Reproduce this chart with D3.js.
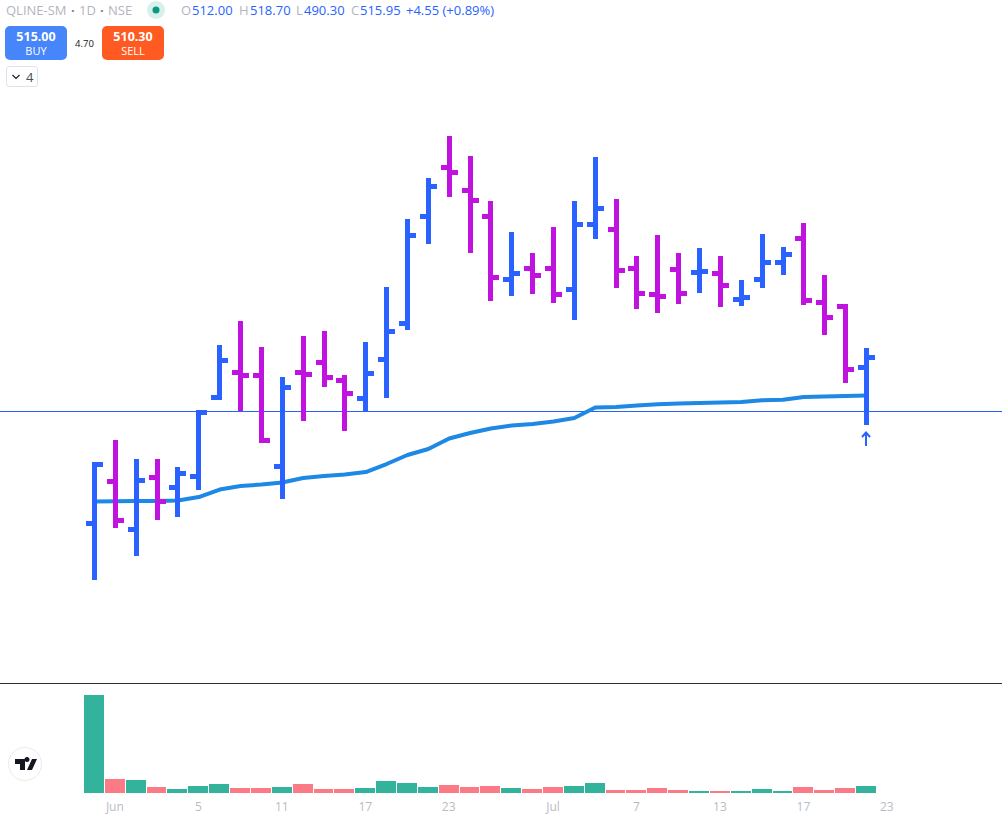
<!DOCTYPE html>
<html>
<head>
<meta charset="utf-8">
<style>
html,body{margin:0;padding:0;background:#fff;overflow:hidden}
svg{display:block}
text{font-family:"Open Sans","Noto Sans",sans-serif}
</style>
<script src="https://cdn.jsdelivr.net/npm/d3@7"></script>
</head>
<body>
<svg id="chart" width="1002" height="816"></svg>
<script>
// Daily OHLC for QLINE-SM, session by session
const opens = [450.45,467.02,448.08,468.60,464.65,468.99,500.15,510.02,508.83,472.94,510.02,513.96,506.86,499.76,515.14,529.35,571.56,590.88,581.81,571.56,546.70,551.04,551.04,542.76,568.40,566.43,551.04,540.79,550.65,549.46,549.07,538.81,546.70,553.41,562.88,537.63,536.05,512.00];
const highs = [473.72,482.40,474.91,474.91,471.75,494.24,519.88,529.35,519.09,507.26,523.43,525.40,508.04,521.06,542.76,569.58,585.76,602.32,594.43,576.68,564.45,556.17,566.43,576.68,594.04,577.47,554.99,563.27,556.17,558.14,554.99,545.52,563.67,558.54,568.01,547.49,536.05,518.70];
const lows = [429.15,449.66,438.62,452.82,454.00,464.65,500.15,495.82,483.19,461.10,491.87,505.28,487.93,495.82,500.94,527.77,561.69,580.23,558.14,539.21,541.18,541.97,538.42,531.71,563.67,544.34,536.05,534.47,538.02,542.36,536.84,537.24,544.34,549.46,537.63,525.80,506.86,490.30];
const closes = [473.72,451.63,467.41,459.13,470.17,494.24,514.75,508.83,483.19,504.10,509.23,508.04,501.73,509.62,526.19,564.06,583.39,588.91,577.87,547.49,549.07,548.28,540.79,568.40,574.71,550.25,541.18,540.00,541.18,549.86,544.34,539.60,553.41,556.57,538.42,531.71,511.20,515.95];
// Moving average overlay
const maValues = [459.13,459.21,459.33,459.33,459.52,460.90,463.86,465.24,465.83,466.62,468.40,469.19,469.78,470.77,473.92,477.47,479.84,483.98,486.15,487.93,489.11,489.70,490.69,492.07,496.21,496.41,497.00,497.47,497.79,497.98,498.18,498.38,499.05,499.29,500.35,500.55,500.74,500.94];
// Volume per session, thousands of shares
const volumes = [98,14,13,6,4,7,9,5,5,6,9,4,4,5,12,10,6,8,6,7,5,4,6,7,10,3,3,5,3,2,2,2,4,2,6,3,5,7];
const volumeUp = [1,0,1,0,1,1,1,0,0,1,0,0,0,1,1,1,1,0,0,0,1,0,0,1,1,0,0,0,0,1,0,1,1,1,0,0,0,1];
// Time axis labels and the session slot each one sits on
const tickSlots = [1,5,9,13,17,22,26,30,34,38];
const tickLabels = ["Jun","5","11","17","23","Jul","7","13","17","23"];
const referencePrice = 494.8;

const svg = d3.select("#chart");
const x = d3.scaleLinear().domain([0, 37]).range([94.5, 866.5]);
const y = d3.scaleLinear().domain([518.70, 490.30]).range([350.5, 422.5]);
const yVol = d3.scaleLinear().domain([0, 98]).range([793, 695]);

const UP = "#2962ff", DOWN = "#c013e0";
const stemW = 5, tickH = 5, tickLen = 6;
const centre = v => Math.floor(y(v));

// price reference line
svg.append("rect").attr("x", 0).attr("width", 1002).attr("y", Math.floor(y(referencePrice))).attr("height", 1).attr("fill", UP);
// pane separator
svg.append("rect").attr("x", 0).attr("width", 1002).attr("y", 683).attr("height", 1).attr("fill", "#2a2e39");

// moving average sits beneath the bars
const maLine = d3.line().x((d, i) => x(i)).y(d => y(d));
svg.append("path").datum(maValues)
  .attr("d", maLine).attr("fill", "none")
  .attr("stroke", "#1e88e5").attr("stroke-width", 4).attr("stroke-linejoin", "round");

// OHLC bars
const bars = svg.append("g").selectAll("g").data(opens).join("g")
  .attr("fill", (d, i) => closes[i] >= opens[i] ? UP : DOWN);
bars.append("rect")
  .attr("x", (d, i) => Math.round(x(i) - stemW / 2))
  .attr("width", stemW)
  .attr("y", (d, i) => Math.round(y(highs[i]) - 2.5))
  .attr("height", (d, i) => Math.round(y(lows[i]) + 2.5) - Math.round(y(highs[i]) - 2.5));
bars.append("rect")
  .attr("x", (d, i) => Math.round(x(i) - stemW / 2) - tickLen)
  .attr("width", tickLen)
  .attr("y", (d, i) => centre(opens[i]) - 2)
  .attr("height", tickH);
bars.append("rect")
  .attr("x", (d, i) => Math.round(x(i) - stemW / 2) + stemW)
  .attr("width", tickLen)
  .attr("y", (d, i) => centre(closes[i]) - 2)
  .attr("height", tickH);

// arrow under the latest low
const ax = x(37) - 0.5, ay = y(lows[37]) + 2.5;
const arrow = svg.append("g").attr("stroke", UP).attr("fill", "none").attr("stroke-width", 2);
arrow.append("line").attr("x1", ax).attr("x2", ax).attr("y1", ay + 7).attr("y2", ay + 21);
arrow.append("path").attr("d", `M${ax-4},${ay+12}L${ax},${ay+7.5}L${ax+4},${ay+12}`);

// volume histogram
svg.append("g").selectAll("rect").data(volumes).join("rect")
  .attr("x", (d, i) => Math.round(x(i) - 10.5))
  .attr("width", (d, i) => Math.round(x(i + 1) - 10.5) - Math.round(x(i) - 10.5) - 1)
  .attr("y", d => yVol(d))
  .attr("height", d => yVol(0) - yVol(d))
  .attr("fill", (d, i) => volumeUp[i] ? "#33b39b" : "#fc7a86");

// time axis
const axis = d3.axisBottom(x).tickValues(tickSlots).tickSize(0).tickPadding(0)
  .tickFormat((d, i) => tickLabels[i]);
const axisG = svg.append("g").attr("transform", "translate(-1,802)").call(axis);
axisG.select(".domain").remove();
axisG.selectAll("text").attr("fill", "#b8bbc4").attr("font-size", 12).attr("font-family", '"Open Sans",sans-serif');

// legend line
function legend(xp, txt, fill, size, anchor) {
  return svg.append("text").attr("x", xp).attr("y", 15).attr("fill", fill)
    .attr("font-size", size || 13).attr("text-anchor", anchor || "start").text(txt);
}
const GREY = "#b2b5be", BLUE = "#2962ff";
legend(6, "QLINE-SM", GREY);
legend(71, "·", "#787b86").attr("font-weight", 700);
legend(79, "1D", GREY);
legend(100, "·", "#787b86").attr("font-weight", 700);
legend(108, "NSE", GREY);
svg.append("circle").attr("cx", 156).attr("cy", 10).attr("r", 9).attr("fill", "#d9efeb");
svg.append("circle").attr("cx", 156).attr("cy", 10).attr("r", 3.5).attr("fill", "#089981");
legend(181, "O", GREY); legend(192, "512.00", BLUE);
legend(239, "H", GREY); legend(250, "518.70", BLUE);
legend(296, "L", GREY); legend(304, "490.30", BLUE);
legend(351, "C", GREY); legend(360, "515.95", BLUE);
legend(406, "+4.55 (+0.89%)", BLUE);

// buy and sell buttons
function button(bx, w, color, price, label) {
  svg.append("rect").attr("x", bx).attr("y", 26).attr("width", w).attr("height", 34).attr("rx", 5).attr("fill", color);
  svg.append("text").attr("x", bx + w / 2).attr("y", 41).attr("text-anchor", "middle").attr("fill", "#fff")
    .attr("font-size", 12.5).attr("font-weight", 700).text(price);
  svg.append("text").attr("x", bx + w / 2).attr("y", 55).attr("text-anchor", "middle").attr("fill", "#fff")
    .attr("font-size", 11).text(label);
}
button(5, 62, "#4785fa", "515.00", "BUY");
button(102, 62, "#ff5a22", "510.30", "SELL");
svg.append("text").attr("x", 84.5).attr("y", 47).attr("text-anchor", "middle").attr("fill", "#131722").attr("font-size", 9.5).text("4.70");

// collapsed indicators toggle
svg.append("rect").attr("x", 6.5).attr("y", 66.5).attr("width", 31).attr("height", 20).attr("rx", 2.5)
  .attr("fill", "#fff").attr("stroke", "#e0e3eb");
svg.append("path").attr("d", "M12.5,75L16,78.5L19.5,75").attr("fill", "none").attr("stroke", "#131722").attr("stroke-width", 1.1);
svg.append("text").attr("x", 26).attr("y", 82).attr("fill", "#4a4e59").attr("font-size", 13).text("4");

// brand badge
svg.append("circle").attr("cx", 25).attr("cy", 764).attr("r", 16.5).attr("fill", "#fff").attr("stroke", "#ebebeb").attr("stroke-width", 1);
svg.append("path").attr("fill", "#131722")
  .attr("d", "M15,759h10v11h-5v-6h-5zM27,762a2.5,2.5 0 1,1 0.01,0zM32,759h5l-5,11h-5z");
</script>
</body>
</html>
